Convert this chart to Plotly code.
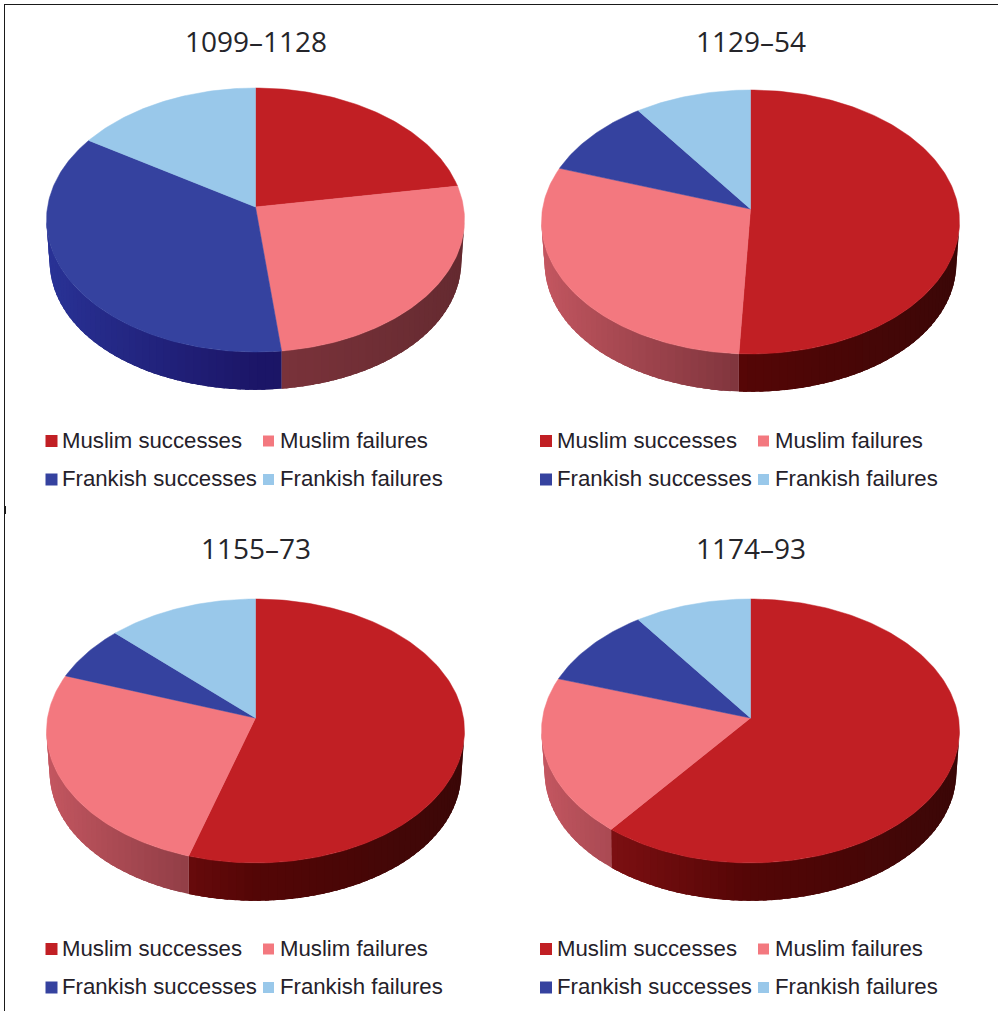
import math
import plotly.graph_objects as go

# ---- data (percent of each period, clockwise from 12 o'clock)
periods = ["1099–1128", "1129–54", "1155–73", "1174–93"]
categories = ["Muslim successes", "Muslim failures", "Frankish successes", "Frankish failures"]
muslim_successes = [22.4, 50.8, 54.7, 60.6]
muslim_failures = [25.8, 29.4, 25.7, 19.4]
frankish_successes = [35.8, 9.9, 6.8, 10.1]
frankish_failures = [16.0, 9.9, 12.8, 9.9]
colors = ["#c11f24", "#f3787f", "#35429f", "#99c8ea"]
# side-wall colours of each slice: at far left, front centre, far right
wall_colors = [
    [(150, 22, 26), (84, 6, 6), (58, 8, 8)],
    [(198, 88, 98), (125, 52, 60), (100, 42, 48)],
    [(42, 52, 152), (28, 22, 104), (24, 18, 90)],
    [(120, 155, 180), (80, 105, 125), (60, 80, 95)],
]

# ---- layout of the four panels
W, H = 998, 1011
apex = [(255.5, 207), (750.5, 209), (255.5, 718), (750.5, 718)]
title_pos = [(255.5, 41), (750.5, 41), (255.5, 548), (750.5, 548)]
legend_y = [(441, 479.5), (441, 479.5), (949, 987.5), (949, 987.5)]
legend_sq_x = [(51.5, 268.5), (546, 763.5), (51.5, 268.5), (546, 763.5)]
legend_tx_x = [(59.5, 277.5), (554.5, 772.5), (59.5, 277.5), (554.5, 772.5)]
A, B, K, DEPTH = 208.0, 130.7, 0.0984, 40.0
TAPER = 0.985


def project(cx, cy, theta_deg, lower=False):
    t = math.radians(theta_deg)
    u, v = math.sin(t), math.cos(t)
    w = 1 + K * v
    x, y = A * u / w, -B * v / w
    if lower:
        return cx + x * (1 - (1 - TAPER) * u ** 4), cy + y * TAPER + DEPTH
    return cx + x, cy + y


def wall_color(idx, x_rel):
    left, mid, right = wall_colors[idx]
    if x_rel < 0:
        a, b, f = mid, left, -x_rel
    else:
        a, b, f = mid, right, x_rel
    return "rgb({},{},{})".format(*[int(p + (q - p) * f) for p, q in zip(a, b)])


fig = go.Figure()
ARC = 1.0


def poly(xs, ys, col, lw=0.0):
    fig.add_trace(go.Scatter(
        x=xs, y=ys, mode="lines", fill="toself", fillcolor=col,
        line=dict(color=col, width=lw), hoverinfo="skip", showlegend=False))


for i in range(4):
    vals = [muslim_successes[i], muslim_failures[i], frankish_successes[i], frankish_failures[i]]
    total = sum(vals)
    cx, cy = apex[i]
    start = 0.0
    spans = []
    for v_ in vals:
        end = start + v_ / total * 360.0
        spans.append((start, end))
        start = end
    # side walls: each strip runs on under the next one, so no seams show
    wall_lo, wall_hi = 95.6, 264.4
    for idx, (a0, a1) in enumerate(spans):
        lo, hi = max(a0, wall_lo), min(a1, wall_hi)
        if hi <= lo:
            continue
        n = max(1, int((hi - lo) / 2.0))
        step = (hi - lo) / n
        for j in range(n):
            t0 = lo + step * j
            t1 = min(hi, t0 + 2.5 * step)
            sub = [t0 + (t1 - t0) * s / 4 for s in range(5)]
            p = [project(cx, cy, t) for t in sub] + [project(cx, cy, t, True) for t in reversed(sub)]
            c = wall_color(idx, math.sin(math.radians(t0 + step / 2)))
            poly([q[0] for q in p] + [p[0][0]], [q[1] for q in p] + [p[0][1]], c, 0)
    # top faces
    for (a0, a1), col in zip(spans, colors):
        n = max(2, int((a1 - a0) / ARC))
        pts = [(cx, cy)] + [project(cx, cy, a0 + (a1 - a0) * j / n) for j in range(n + 1)] + [(cx, cy)]
        poly([q[0] for q in pts], [q[1] for q in pts], col, 0.5)
    # legend
    for k, name in enumerate(categories):
        row, colm = k // 2, k % 2
        fig.add_trace(go.Scatter(
            x=[legend_sq_x[i][colm]], y=[legend_y[i][row]], mode="markers",
            marker=dict(symbol="square", size=12 if colm == 0 else 11, color=colors[k], line=dict(width=0)),
            hoverinfo="skip", showlegend=False))
        fig.add_annotation(x=legend_tx_x[i][colm], y=legend_y[i][row] - 1, text=name, xref="x", yref="y",
                           xanchor="left", yanchor="middle", showarrow=False,
                           font=dict(family="Liberation Sans", size=22.2, color="#25212a"))
    fig.add_annotation(x=title_pos[i][0], y=title_pos[i][1], text=periods[i], xref="x", yref="y",
                       xanchor="center", yanchor="middle", showarrow=False,
                       font=dict(family="Open Sans", size=28, color="#25252a"))

# frame lines
for x0, y0, x1, y1, lw in [(4, 4.5, 998, 4.5, 1), (4.5, 4, 4.5, 1011, 1), (5, 506, 5, 514, 2)]:
    fig.add_shape(type="line", x0=x0, y0=y0, x1=x1, y1=y1, xref="x", yref="y",
                  line=dict(color="#1a1a1a", width=lw))

fig.update_layout(
    width=W, height=H, margin=dict(l=0, r=0, t=0, b=0),
    paper_bgcolor="white", plot_bgcolor="white", showlegend=False,
    xaxis=dict(range=[0, W], visible=False, fixedrange=True),
    yaxis=dict(range=[H, 0], visible=False, fixedrange=True),
)
fig.write_html("out.html", post_script="document.body.style.margin='0';", config={"displayModeBar": False})
